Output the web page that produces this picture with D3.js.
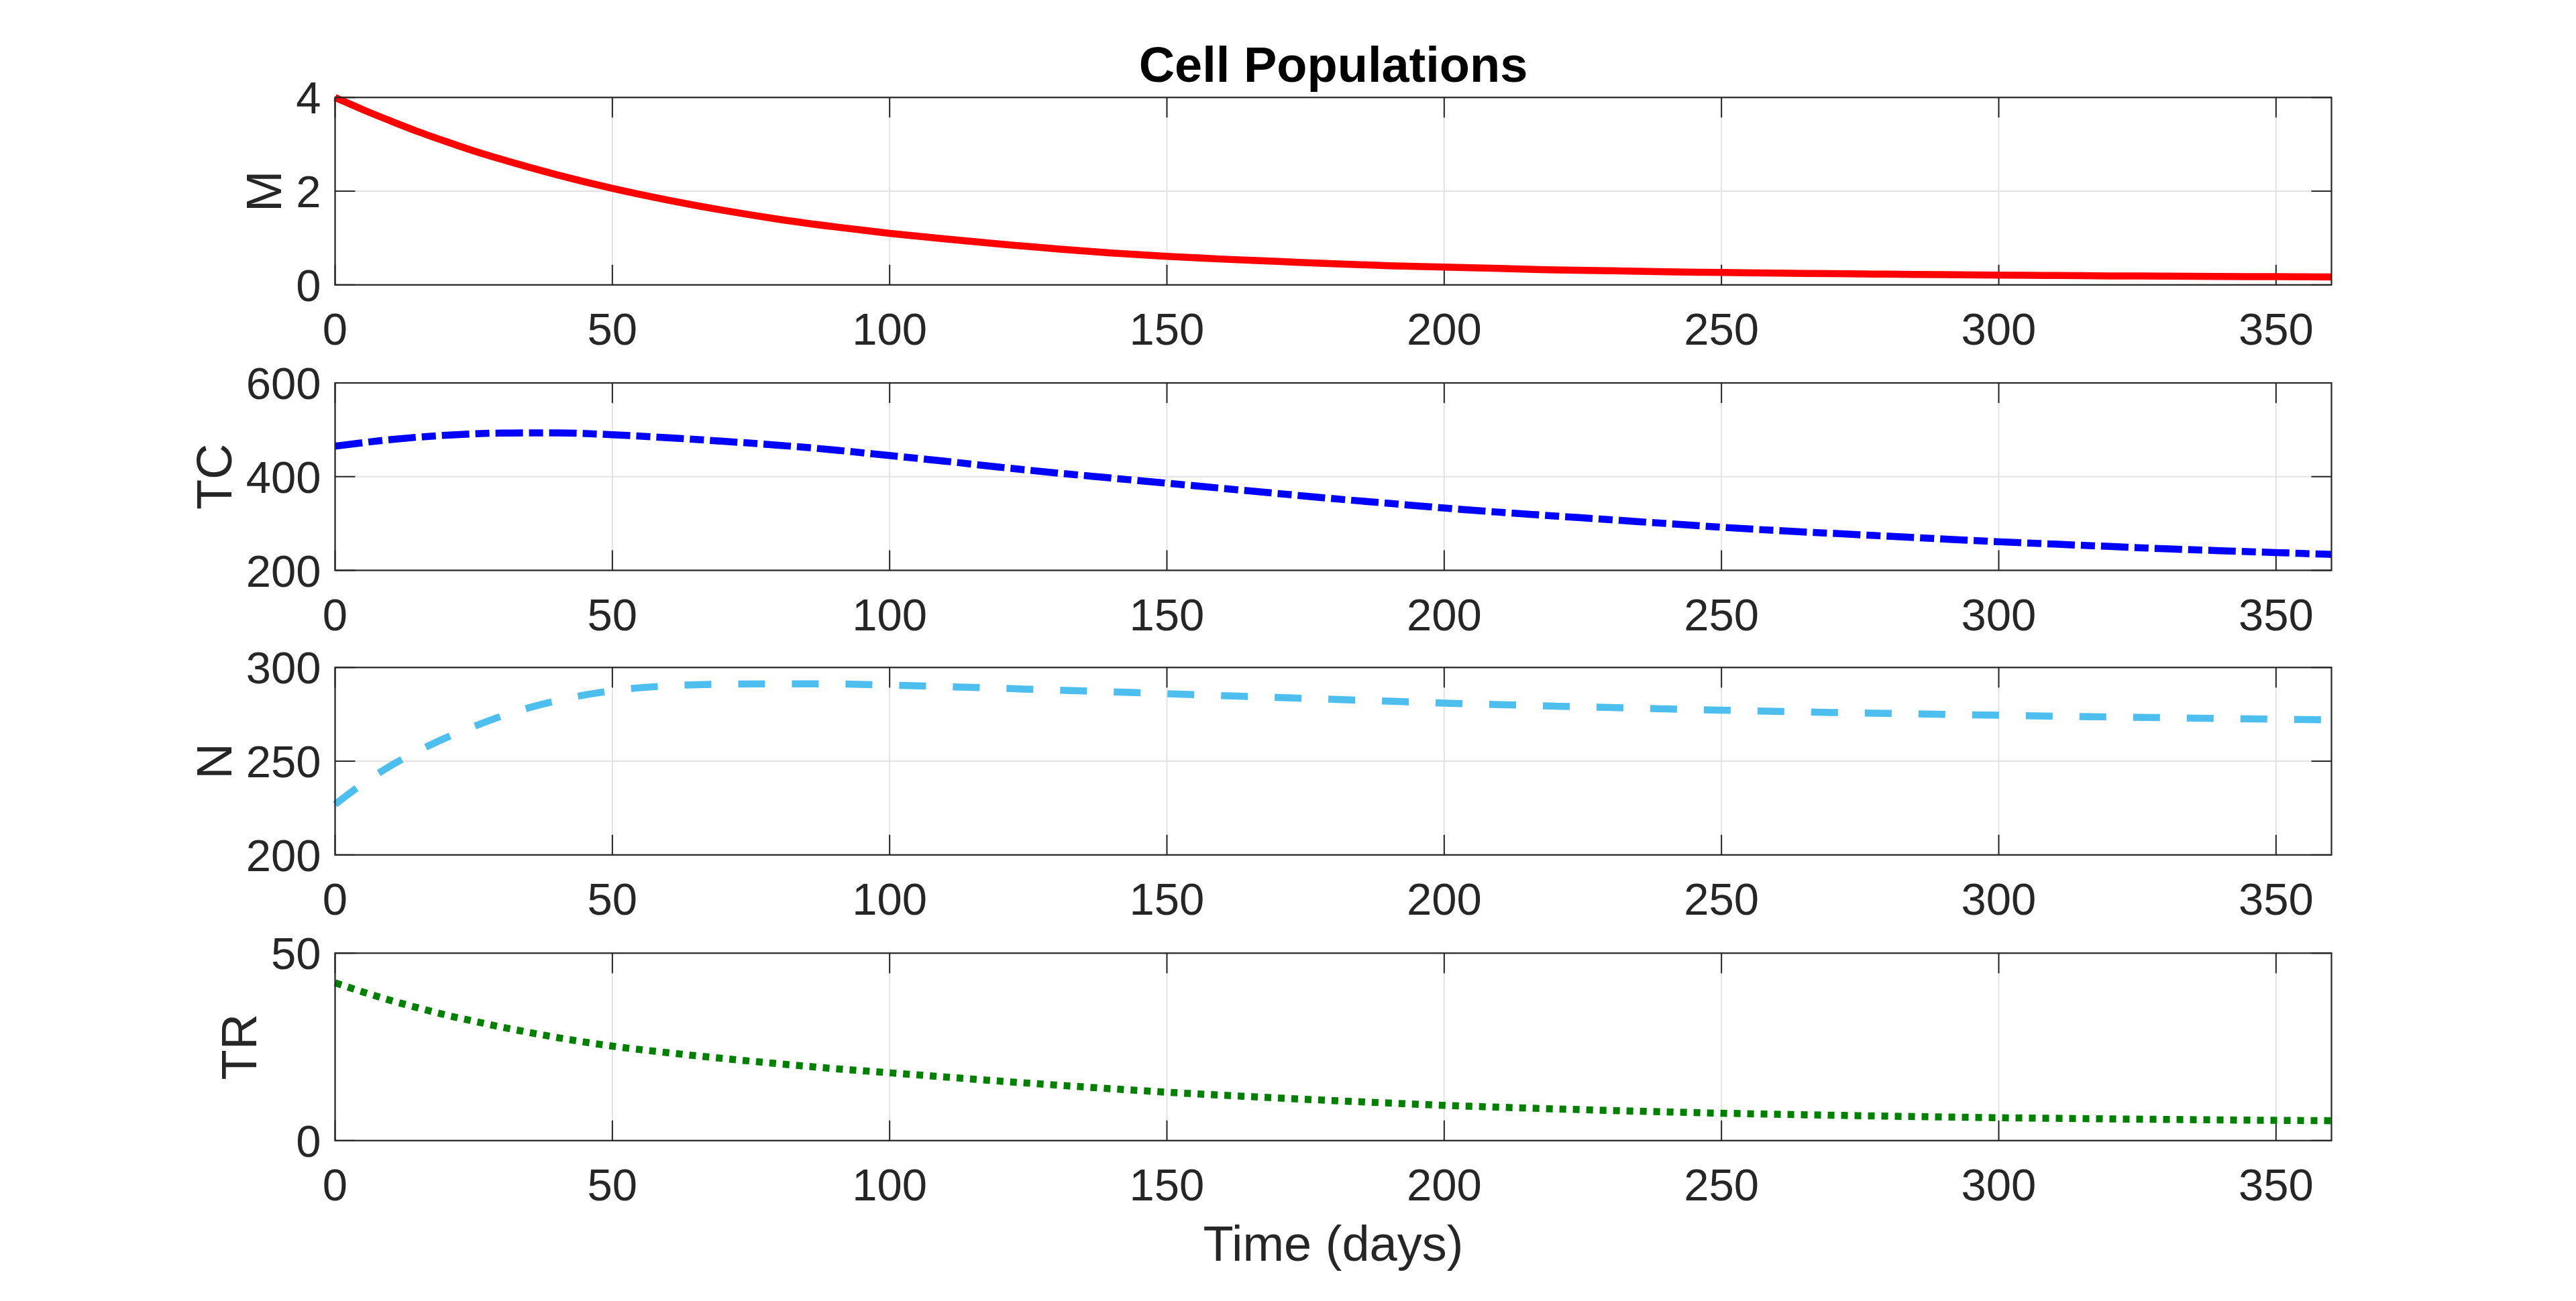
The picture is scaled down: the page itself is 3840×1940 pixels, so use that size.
<!DOCTYPE html>
<html>
<head>
<meta charset="utf-8">
<script src="https://cdn.jsdelivr.net/npm/d3@7"></script>
<style>
  body { margin: 0; background: #fff; }
  text { font-family: "Liberation Sans", Arial, Helvetica, sans-serif; }
</style>
</head>
<body>
<div id="chart"></div>
<script>
// values
var days = [0, 5, 10, 15, 20, 25, 30,
            40, 50, 60, 70, 80, 90, 100, 110, 120, 130,
            140, 150, 160, 170, 180, 190, 200, 210, 220, 230,
            240, 250, 260, 270, 280, 290, 300, 310, 320, 330,
            340, 350, 360];
var valsM = [4.00, 3.74, 3.50, 3.27, 3.06, 2.86, 2.68,
             2.35, 2.06, 1.81, 1.59, 1.40, 1.24, 1.10, 0.98, 0.87, 0.77,
             0.68, 0.61, 0.55, 0.50, 0.45, 0.41, 0.38, 0.35, 0.32, 0.30,
             0.28, 0.265, 0.25, 0.24, 0.228, 0.218, 0.208, 0.20, 0.192, 0.186,
             0.18, 0.175, 0.17];
var valsTC = [465, 472.5, 479, 484.3, 488.4, 491.3, 493,
              493.4, 489.5, 483, 475.5, 467, 457, 445, 433, 420, 408,
              397, 386, 375, 364, 353, 343, 333, 324, 316, 308,
              300, 292, 285, 279, 273, 267, 261, 256, 251, 246,
              242, 238, 234];
var valsN = [227, 238, 247.5, 255.5, 262.5, 268.5, 274,
             282.3, 287.6, 290.2, 291.1, 291.3, 291.2, 290.6, 289.8, 288.9, 287.9,
             287, 286, 285, 284, 283, 282, 281, 280.2, 279.4, 278.6,
             277.9, 277.2, 276.6, 276, 275.5, 275, 274.5, 274, 273.6, 273.2,
             272.8, 272.4, 272];
var valsTR = [42.1, 39.65, 37.4, 35.4, 33.5, 31.85, 30.3,
              27.5, 25.2, 23.45, 21.9, 20.5, 19.2, 18.1, 16.95, 15.85, 14.82,
              13.83, 12.9, 12.1, 11.36, 10.67, 10.02, 9.4, 8.9, 8.45, 8.04,
              7.65, 7.3, 7.02, 6.76, 6.52, 6.3, 6.1, 5.94, 5.79, 5.65,
              5.52, 5.4, 5.3];

var xTicks = [0, 50, 100, 150, 200, 250, 300, 350];
var xDomain = [0, 360];
var panelNames = ['M', 'TC', 'N', 'TR'];
var panelValues = [valsM, valsTC, valsN, valsTR];
var yDomains = [[0, 4], [200, 600], [200, 300], [0, 50]];
var yTicks = [[0, 2, 4], [200, 400, 600], [200, 250, 300], [0, 50]];
var titleText = 'Cell Populations';
var xLabelText = 'Time (days)';

// styling (matlab-ish)
var W = 3840, H = 1940;
var plotLeft = 499.5, plotRight = 3475.5;
var panelTop = [145.3, 571, 995.3, 1421.3];
var panelH = 279.5;
var tickLen = 30;
var axisColor = '#262626';
var gridColor = '#e2e2e2';
var lineStyles = [
    {color: '#ff0000', dash: null},
    {color: '#0000ff', dash: '41,9,21,9'},
    {color: '#4dbeee', dash: '40,40'},
    {color: '#008000', dash: '10,10'}
];
var lineWidth = 10.5;

function drawChart() {
    var svg = d3.select('#chart').append('svg')
        .attr('width', W).attr('height', H);

    var x = d3.scaleLinear().domain(xDomain).range([plotLeft, plotRight]);

    for (var p = 0; p < panelNames.length; p++) {
        drawPanel(svg, x, p);
    }

    svg.append('text')
        .attr('x', (plotLeft + plotRight) / 2).attr('y', 122)
        .attr('text-anchor', 'middle')
        .attr('font-size', 74).attr('font-weight', 'bold').attr('fill', '#000')
        .text(titleText);

    svg.append('text')
        .attr('x', (plotLeft + plotRight) / 2).attr('y', 1880)
        .attr('text-anchor', 'middle')
        .attr('font-size', 74).attr('fill', axisColor)
        .text(xLabelText);
}

function drawPanel(svg, x, p) {
    var yTop = panelTop[p], yBot = yTop + panelH;
    var y = d3.scaleLinear().domain(yDomains[p]).range([yBot, yTop]);
    var g = svg.append('g').attr('class', 'panel');

    // grid
    g.selectAll('.gx').data(xTicks).enter().append('line')
        .attr('x1', function (d) { return x(d); }).attr('x2', function (d) { return x(d); })
        .attr('y1', yTop).attr('y2', yBot)
        .attr('stroke', gridColor).attr('stroke-width', 2);
    g.selectAll('.gy').data(yTicks[p]).enter().append('line')
        .attr('x1', plotLeft).attr('x2', plotRight)
        .attr('y1', function (d) { return y(d); }).attr('y2', function (d) { return y(d); })
        .attr('stroke', gridColor).attr('stroke-width', 2);

    // ticks, inward on all four sides
    g.selectAll('.tb').data(xTicks).enter().append('line')
        .attr('x1', function (d) { return x(d); }).attr('x2', function (d) { return x(d); })
        .attr('y1', yBot).attr('y2', yBot - tickLen)
        .attr('stroke', axisColor).attr('stroke-width', 2);
    g.selectAll('.tt').data(xTicks).enter().append('line')
        .attr('x1', function (d) { return x(d); }).attr('x2', function (d) { return x(d); })
        .attr('y1', yTop).attr('y2', yTop + tickLen)
        .attr('stroke', axisColor).attr('stroke-width', 2);
    g.selectAll('.tl').data(yTicks[p]).enter().append('line')
        .attr('x1', plotLeft).attr('x2', plotLeft + tickLen)
        .attr('y1', function (d) { return y(d); }).attr('y2', function (d) { return y(d); })
        .attr('stroke', axisColor).attr('stroke-width', 2);
    g.selectAll('.tr').data(yTicks[p]).enter().append('line')
        .attr('x1', plotRight).attr('x2', plotRight - tickLen)
        .attr('y1', function (d) { return y(d); }).attr('y2', function (d) { return y(d); })
        .attr('stroke', axisColor).attr('stroke-width', 2);

    // data line
    var pts = days.map(function (d, i) { return [d, panelValues[p][i]]; });
    var line = d3.line()
        .x(function (d) { return x(d[0]); })
        .y(function (d) { return y(d[1]); })
        .curve(d3.curveMonotoneX);
    var path = g.append('path').datum(pts)
        .attr('d', line)
        .attr('fill', 'none')
        .attr('stroke', lineStyles[p].color)
        .attr('stroke-width', lineWidth);
    if (lineStyles[p].dash) path.attr('stroke-dasharray', lineStyles[p].dash);

    // box
    g.append('rect')
        .attr('x', plotLeft).attr('y', yTop)
        .attr('width', plotRight - plotLeft).attr('height', panelH)
        .attr('fill', 'none').attr('stroke', axisColor).attr('stroke-width', 2.2);

    // tick labels
    g.selectAll('.xl').data(xTicks).enter().append('text')
        .attr('x', function (d) { return x(d); })
        .attr('y', yBot + 89)
        .attr('text-anchor', 'middle')
        .attr('font-size', 67).attr('fill', axisColor)
        .text(function (d) { return d; });
    var yl = g.selectAll('.yl').data(yTicks[p]).enter().append('text')
        .attr('x', plotLeft - 21)
        .attr('y', function (d) { return y(d); })
        .attr('dy', '0.36em')
        .attr('text-anchor', 'end')
        .attr('font-size', 67).attr('fill', axisColor)
        .text(function (d) { return d; });

    // y label sits left of the widest tick label
    var maxW = 0;
    yl.each(function () { maxW = Math.max(maxW, this.getComputedTextLength()); });
    var lx = plotLeft - 21 - maxW - 22;
    g.append('text')
        .attr('transform', 'translate(' + lx + ',' + (yTop + panelH / 2) + ') rotate(-90)')
        .attr('text-anchor', 'middle')
        .attr('font-size', 74).attr('fill', axisColor)
        .text(panelNames[p]);
}

drawChart();
</script>
</body>
</html>
